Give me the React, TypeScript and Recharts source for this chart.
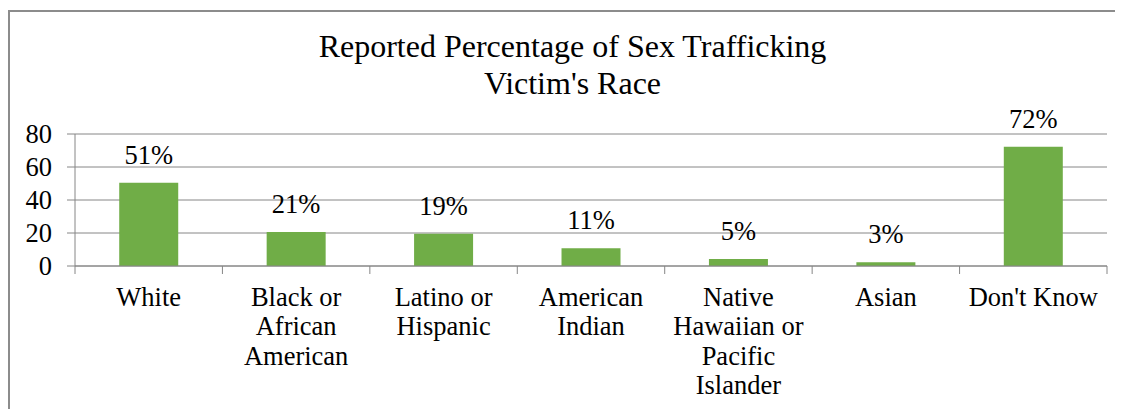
import React from 'react';
import { BarChart, Bar, XAxis, YAxis, CartesianGrid, LabelList, Customized } from 'recharts';

const CATEGORIES = [
  'White',
  'Black or African American',
  'Latino or Hispanic',
  'American Indian',
  'Native Hawaiian or Pacific Islander',
  'Asian',
  "Don't Know",
];
const CATEGORY_LINES = [
  ['White'],
  ['Black or', 'African', 'American'],
  ['Latino or', 'Hispanic'],
  ['American', 'Indian'],
  ['Native', 'Hawaiian or', 'Pacific', 'Islander'],
  ['Asian'],
  ["Don't Know"],
];
const VALUES = [50.5, 20.6, 19.6, 10.8, 4.3, 2.3, 72.2];
const VALUE_LABELS = ['51%', '21%', '19%', '11%', '5%', '3%', '72%'];
const Y_TICKS = [0, 20, 40, 60, 80];
const TITLE_LINES = ['Reported Percentage of Sex Trafficking', "Victim's Race"];

const data = CATEGORIES.map((c, i) => ({ name: c, value: VALUES[i], label: VALUE_LABELS[i] }));

const FONT = "'Liberation Serif', 'DejaVu Serif', serif";
const GRID = '#868686';
const BAR = '#70AD47';
const W = 1115;
const H = 401;
const MARGIN = { top: 124, right: 16, left: 0, bottom: 0 };
const Y_W = 67;
const PLOT_W = W - MARGIN.left - MARGIN.right - Y_W;
const BAND = PLOT_W / CATEGORIES.length;

const XTick = (props: any) => {
  const { x, y, payload } = props;
  const idx = CATEGORIES.indexOf(payload.value);
  const lines = CATEGORY_LINES[idx] || [payload.value];
  const half = BAND / 2;
  return (
    <g>
      <line x1={x - half} x2={x - half} y1={y} y2={y + 8} stroke={GRID} strokeWidth={1} />
      {idx === CATEGORIES.length - 1 && (
        <line x1={x + half} x2={x + half} y1={y} y2={y + 8} stroke={GRID} strokeWidth={1} />
      )}
      <text x={x} y={y + 39.7} textAnchor="middle" style={{ fontSize: 26.5, fontFamily: FONT, fill: '#000' }}>
        {lines.map((l, i) => (
          <tspan key={i} x={x} dy={i === 0 ? 0 : 29.5}>
            {l}
          </tspan>
        ))}
      </text>
    </g>
  );
};

const Title = () => (
  <text x={564.5} y={47} textAnchor="middle" style={{ fontSize: 32, fontFamily: FONT, fill: '#000' }}>
    {TITLE_LINES.map((l, i) => (
      <tspan key={i} x={564.5} dy={i === 0 ? 0 : 37}>
        {l}
      </tspan>
    ))}
  </text>
);

export default function App() {
  return (
    <div style={{ position: 'relative', top: 2, width: W, height: H, fontFamily: FONT }}>
      <div style={{ position: 'absolute', left: 0, top: 0, width: W, height: 2, background: '#8c8c8c' }} />
      <div style={{ position: 'absolute', left: 0, top: 0, width: 2, height: H, background: '#8c8c8c' }} />
      <BarChart width={W} height={H} data={data} margin={MARGIN} barCategoryGap="30%" style={{ fontFamily: FONT }}>
        <Customized component={<Title />} />
        <CartesianGrid horizontal vertical={false} stroke={GRID} strokeWidth={1} />
        <XAxis
          dataKey="name"
          type="category"
          interval={0}
          height={145}
          axisLine={{ stroke: GRID, strokeWidth: 1 }}
          tickLine={false}
          tickSize={0}
          tickMargin={0}
          tick={<XTick />}
        />
        <YAxis
          width={Y_W}
          domain={[0, 80]}
          ticks={Y_TICKS}
          interval={0}
          axisLine={{ stroke: GRID, strokeWidth: 1 }}
          tickLine={{ stroke: GRID, strokeWidth: 1 }}
          tickSize={8}
          tickMargin={15}
          tick={{ fill: '#000', fontSize: 26.5, fontFamily: FONT }}
        />
        <Bar dataKey="value" fill={BAR} isAnimationActive={false}>
          <LabelList
            dataKey="label"
            position="top"
            offset={19}
            style={{ fill: '#000', fontSize: 26.5, fontFamily: FONT }}
          />
        </Bar>
      </BarChart>
    </div>
  );
}
